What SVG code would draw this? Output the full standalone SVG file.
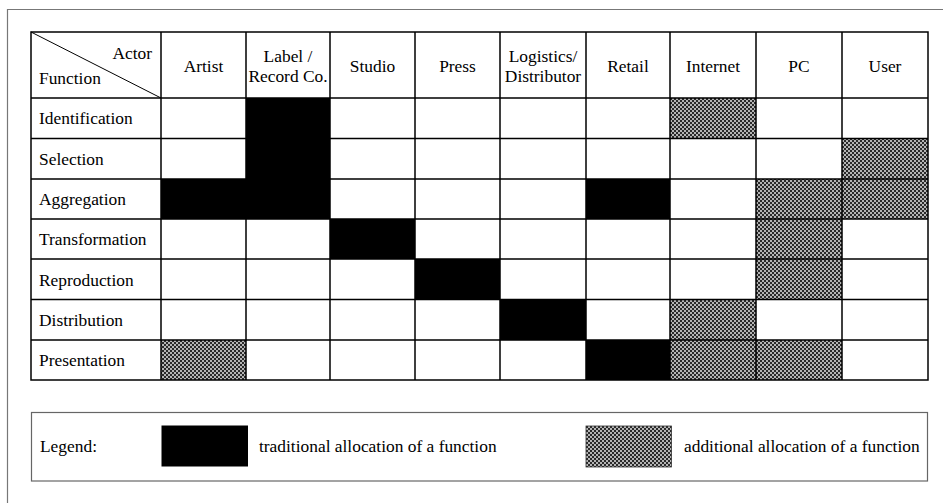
<svg xmlns="http://www.w3.org/2000/svg" width="943" height="503" viewBox="0 0 943 503" font-family="'Liberation Serif', 'DejaVu Serif', serif">
<defs>
<pattern id="dither" width="4" height="4" patternUnits="userSpaceOnUse">
<rect width="4" height="4" fill="#b4b4b4"/>
<rect x="0" y="0" width="2" height="2" fill="#2a2a2a"/>
<rect x="2" y="2" width="2" height="2" fill="#2a2a2a"/>
</pattern>
<style>
text{font-size:17.4px;fill:#000}
.c{text-anchor:middle}
.blk{fill:#000}
.gry{fill:url(#dither)}
.grid{stroke:#000;stroke-width:1.5;fill:none}
.frame{stroke:#777;stroke-width:1.2;fill:none}
</style>
</defs>
<rect width="943" height="503" fill="#fff"/>
<path class="frame" d="M7.5,503 V9.5 H943"/>

<g id="fills">
<rect class="blk" x="246" y="98" width="84" height="121"/>
<rect class="blk" x="161" y="179" width="85" height="40"/>
<rect class="blk" x="586" y="179" width="84" height="40"/>
<rect class="blk" x="330" y="219" width="85" height="40"/>
<rect class="blk" x="415" y="259" width="85" height="40"/>
<rect class="blk" x="500" y="299.5" width="86" height="40.5"/>
<rect class="blk" x="586" y="340" width="84" height="40"/>
<rect class="gry" x="670" y="98" width="86" height="40.5"/>
<rect class="gry" x="842" y="138.5" width="86" height="80.5"/>
<rect class="gry" x="756" y="179" width="86" height="121"/>
<rect class="gry" x="670" y="299.5" width="86" height="80.5"/>
<rect class="gry" x="756" y="340" width="86" height="40"/>
<rect class="gry" x="161" y="340" width="85" height="40"/>
</g>

<g id="grid">
<rect class="grid" x="31" y="32" width="897" height="348"/>
<path class="grid" d="M161,32V380 M246,32V380 M330,32V380 M415,32V380 M500,32V380 M586,32V380 M670,32V380 M756,32V380 M842,32V380
M31,98H928 M31,138.5H928 M31,179H928 M31,219H928 M31,259H928 M31,299.5H928 M31,340H928"/>
<path stroke="#000" stroke-width="1" d="M31,32L161,98"/>
</g>

<g id="header" font-family="'Liberation Serif', 'DejaVu Serif', serif">
<text x="152" y="59" text-anchor="end">Actor</text>
<text x="39" y="84">Function</text>
<text class="c" x="203.5" y="72">Artist</text>
<text class="c" x="288" y="62">Label /</text>
<text class="c" x="288" y="82">Record Co.</text>
<text class="c" x="372.5" y="72">Studio</text>
<text class="c" x="457.5" y="72">Press</text>
<text class="c" x="543" y="62">Logistics/</text>
<text class="c" x="543" y="82">Distributor</text>
<text class="c" x="628" y="72">Retail</text>
<text class="c" x="713" y="72">Internet</text>
<text class="c" x="799" y="72">PC</text>
<text class="c" x="885" y="72">User</text>
</g>

<g id="rows" font-family="'Liberation Serif', 'DejaVu Serif', serif">
<text x="39" y="124">Identification</text>
<text x="39" y="164.5">Selection</text>
<text x="39" y="205">Aggregation</text>
<text x="39" y="245">Transformation</text>
<text x="39" y="285.5">Reproduction</text>
<text x="39" y="326">Distribution</text>
<text x="39" y="366">Presentation</text>
</g>

<g id="legend" font-family="'Liberation Serif', 'DejaVu Serif', serif">
<rect x="31.5" y="412.5" width="896" height="68.5" fill="none" stroke="#666" stroke-width="1.2"/>
<text x="40" y="452">Legend:</text>
<rect x="161.5" y="425.5" width="86.5" height="41" fill="#000"/>
<text x="259" y="452">traditional allocation of a function</text>
<rect x="586" y="426" width="85.5" height="41" class="gry" stroke="#333" stroke-width="0.8"/>
<text x="684" y="452">additional allocation of a function</text>
</g>
</svg>
